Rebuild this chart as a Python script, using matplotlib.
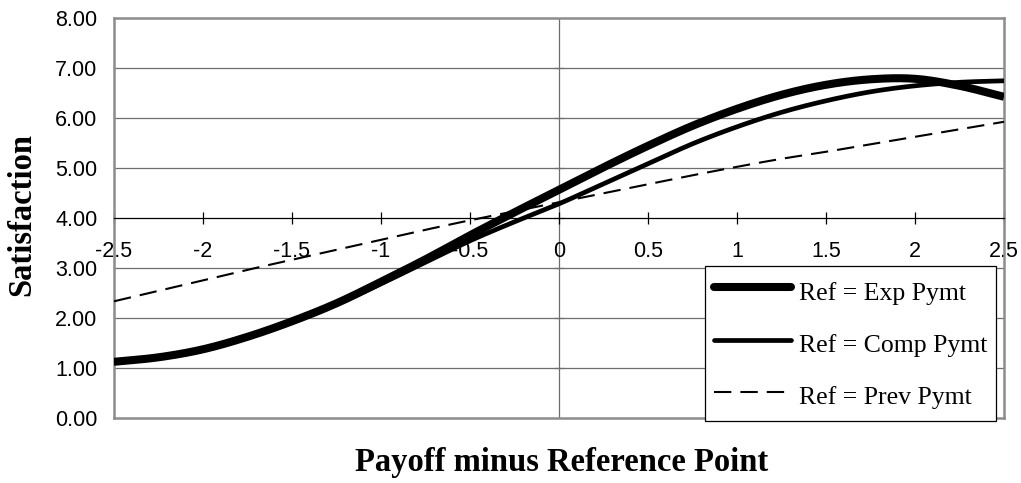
import numpy as np
import matplotlib
matplotlib.use("Agg")
import matplotlib.pyplot as plt
from matplotlib.lines import Line2D

# Payoff minus reference point
payoff = [-2.5, -2.25, -2.0, -1.75, -1.5, -1.25, -1.0, -0.75, -0.5, -0.25,
          0.0, 0.25, 0.5, 0.75, 1.0, 1.25, 1.5, 1.75, 2.0, 2.25, 2.5]

# Satisfaction for each reference definition
exp_pymt = [1.13, 1.22, 1.38, 1.63, 1.94, 2.30, 2.73, 3.18, 3.66, 4.12,
            4.57, 5.02, 5.45, 5.85, 6.19, 6.47, 6.67, 6.78, 6.79, 6.65, 6.43]
comp_pymt = [1.12, 1.21, 1.37, 1.62, 1.92, 2.28, 2.69, 3.12, 3.55, 3.93,
             4.29, 4.69, 5.09, 5.49, 5.83, 6.12, 6.35, 6.53, 6.65, 6.72, 6.75]
prev_pymt = [2.34, 2.55, 2.76, 2.97, 3.17, 3.37, 3.57, 3.77, 3.96, 4.14,
             4.32, 4.50, 4.68, 4.86, 5.03, 5.19, 5.33, 5.48, 5.63, 5.78, 5.93]

series_labels = ["Ref = Exp Pymt", "Ref = Comp Pymt", "Ref = Prev Pymt"]
x_ticks = [-2.5, -2, -1.5, -1, -0.5, 0, 0.5, 1, 1.5, 2, 2.5]
x_tick_labels = ["-2.5", "-2", "-1.5", "-1", "-0.5", "0", "0.5", "1", "1.5", "2", "2.5"]
y_ticks = [0, 1, 2, 3, 4, 5, 6, 7, 8]
y_tick_labels = ["0.00", "1.00", "2.00", "3.00", "4.00", "5.00", "6.00", "7.00", "8.00"]


def smoothed(x, y, n=24):
    """Catmull-Rom path through the data points (smoothed line look)."""
    P = np.column_stack([np.asarray(x, float), np.asarray(y, float)])
    P = np.vstack([2 * P[0] - P[1], P, 2 * P[-1] - P[-2]])
    t = np.linspace(0, 1, n, endpoint=False)[:, None]
    parts = []
    for i in range(1, len(P) - 2):
        p0, p1, p2, p3 = P[i - 1], P[i], P[i + 1], P[i + 2]
        seg = 0.5 * (2 * p1 + (-p0 + p2) * t
                     + (2 * p0 - 5 * p1 + 4 * p2 - p3) * t ** 2
                     + (-p0 + 3 * p1 - 3 * p2 + p3) * t ** 3)
        parts.append(seg)
    parts.append(P[-2][None, :])
    pts = np.vstack(parts)
    return pts[:, 0], pts[:, 1]


plt.rcParams["lines.scale_dashes"] = False

W, H = 1021, 483
fig = plt.figure(figsize=(W / 100, H / 100), dpi=100)
ax = fig.add_axes([114 / W, 1 - 418.3 / H, (1004 - 114) / W, (418.3 - 18.3) / H])

ax.set_xlim(-2.5, 2.5)
ax.set_ylim(0, 8)

grid_col = "#6e6e6e"
frame_col = "#8c8c8c"

# horizontal gridlines
for yv in y_ticks[1:-1]:
    if yv != 4:
        ax.axhline(yv, color=grid_col, lw=0.9, zorder=1)

# vertical axis through x = 0 with small cross ticks
ax.axvline(0, color=grid_col, lw=0.9, zorder=1)
ax.plot([0] * len(y_ticks[1:-1]), y_ticks[1:-1], ls="none", marker="_",
        ms=7, mew=0.9, color=grid_col, zorder=1)

# horizontal axis crossing at satisfaction = 4
ax.spines["bottom"].set_position(("data", 4))
ax.spines["bottom"].set_color("black")
ax.spines["bottom"].set_linewidth(0.9)
for s in ["top", "left", "right"]:
    ax.spines[s].set_color(frame_col)
    ax.spines[s].set_linewidth(1.8)
# bottom edge of the plot frame
ax.plot([0, 1], [0, 0], transform=ax.transAxes, color=frame_col, lw=1.8,
        clip_on=False, zorder=3, solid_capstyle="projecting")

ax.set_xticks(x_ticks)
ax.set_xticklabels(x_tick_labels, fontfamily="Liberation Sans", fontsize=15.5)
ax.tick_params(axis="x", direction="inout", length=9, width=0.9, color="black", pad=12)

ax.set_yticks(y_ticks)
ax.set_yticklabels(y_tick_labels, fontfamily="Liberation Sans", fontsize=15.5)
ax.tick_params(axis="y", length=0, pad=12)

# data series
xs, ys = smoothed(payoff, exp_pymt)
ax.plot(xs, ys, color="black", lw=5.8, solid_capstyle="butt", zorder=4)
xs, ys = smoothed(payoff, comp_pymt)
ax.plot(xs, ys, color="black", lw=3.4, solid_capstyle="butt", zorder=4)
xs, ys = smoothed(payoff, prev_pymt)
ax.plot(xs, ys, color="black", lw=1.5, dashes=(12.5, 6.5), zorder=4)

handles = [
    Line2D([], [], color="black", lw=5.8, solid_capstyle="round"),
    Line2D([], [], color="black", lw=3.4, solid_capstyle="round"),
    Line2D([], [], color="black", lw=1.5, dashes=(12.5, 6.5)),
]
leg = ax.legend(handles, series_labels, loc="upper left",
                bbox_to_anchor=(705 / W, 1 - 266 / H), bbox_transform=fig.transFigure,
                prop={"family": "Liberation Serif", "size": 18.5},
                frameon=True, fancybox=False, framealpha=1, edgecolor="black",
                borderpad=0.35, handlelength=3.0, handletextpad=0.3,
                handleheight=1.56, labelspacing=0.78, borderaxespad=0)
leg.get_frame().set_linewidth(0.9)
leg.set_zorder(10)

fig.text(562 / W, 1 - 462 / H, "Payoff minus Reference Point", ha="center", va="center",
         fontfamily="Liberation Serif", fontweight="bold", fontsize=23.5)
fig.text(22 / W, 1 - 215 / H, "Satisfaction", ha="center", va="center", rotation=90,
         fontfamily="Liberation Serif", fontweight="bold", fontsize=23.5)

fig.savefig("out.png", dpi=100)
